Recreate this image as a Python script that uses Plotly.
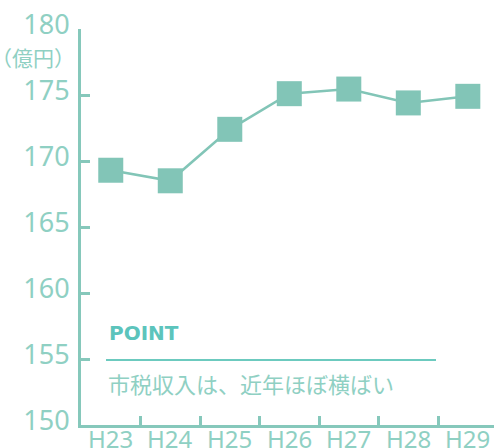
import plotly.graph_objects as go

years = ["H23", "H24", "H25", "H26", "H27", "H28", "H29"]
revenue = [169.3, 168.5, 172.4, 175.1, 175.45, 174.4, 174.9]
y_ticks = [150, 155, 160, 165, 170, 175, 180]

line_col = "#82c5b7"
text_col = "#8fd0c3"
axis_col = "#86c8bb"

L, T, W, H = 81, 29, 413, 396


def px(x):
    return (x - L) / W


def py(y):
    return 1 - (y - T) / H


fig = go.Figure()
fig.add_trace(go.Scatter(
    x=years, y=revenue, mode="lines+markers",
    line=dict(color=line_col, width=2.5),
    marker=dict(symbol="square", size=25, color=line_col),
    showlegend=False, cliponaxis=False,
))

fig.update_layout(
    width=494, height=448,
    margin=dict(l=L, r=494 - L - W, t=T, b=448 - T - H, autoexpand=False),
    plot_bgcolor="white", paper_bgcolor="white",
    font=dict(family="Noto Sans, Open Sans, sans-serif", color=text_col),
    xaxis=dict(
        type="category", range=[-0.5, 6.44], automargin=False,
        showline=True, linecolor=axis_col, linewidth=3,
        ticks="inside", tickson="boundaries", ticklen=9, tickwidth=3, tickcolor=axis_col,
        showticklabels=False, showgrid=False, zeroline=False,
    ),
    yaxis=dict(
        range=[150, 180], tickvals=y_ticks, automargin=False,
        showline=True, linecolor=axis_col, linewidth=3,
        ticks="inside", ticklen=9, tickwidth=3, tickcolor=axis_col,
        tickfont=dict(size=27, color=text_col), showgrid=False, zeroline=False,
        ticklabelstandoff=3, ticklabelshift=-4,
    ),
)

# category labels sitting just under the x axis (partly cut at the bottom edge, as in the reference)
for yr in years:
    fig.add_annotation(
        xref="x", yref="paper", x=yr, y=py(438),
        xanchor="center", yanchor="middle", showarrow=False,
        text=yr, font=dict(size=24, color=text_col),
    )

fig.add_annotation(
    xref="paper", yref="paper", x=px(77), y=py(57),
    xanchor="right", yanchor="middle", showarrow=False,
    text="（億円）", font=dict(size=21, color=text_col, family="Noto Sans CJK JP"),
)
fig.add_annotation(
    xref="paper", yref="paper", x=px(107), y=py(333),
    xanchor="left", yanchor="middle", showarrow=False,
    text="<b>POINT</b>", font=dict(size=20, color="#5cc4bc", family="DejaVu Sans, sans-serif"),
)
fig.add_shape(
    type="line", xref="paper", yref="paper",
    x0=px(106), x1=px(436), y0=py(360), y1=py(360),
    line=dict(color="#6ccabf", width=2),
)
fig.add_annotation(
    xref="paper", yref="paper", x=px(106), y=py(383),
    xanchor="left", yanchor="middle", showarrow=False,
    text="市税収入は、近年ほぼ横ばい", font=dict(size=22, color=text_col, family="Noto Sans CJK JP"),
)

fig.write_html(
    "out.html",
    config={"displayModeBar": False},
    post_script="document.body.style.margin='0';document.body.style.overflow='hidden';",
)
